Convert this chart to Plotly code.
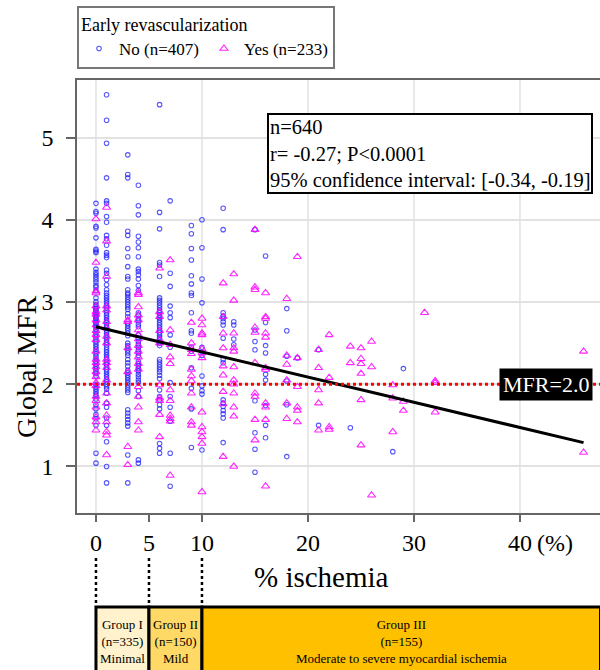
import plotly.graph_objects as go

# ---------------- data ----------------
# % ischemia columns and Global MFR values, "No" = circles, "Yes" = triangles
no_0 = [4.20, 4.10, 4.08, 3.92, 3.90, 3.78, 3.64, 3.62, 3.60, 3.40, 3.36, 3.33, 3.30, 3.27, 3.24, 3.20, 3.18, 3.14,
        3.05, 3.00, 2.97, 2.94, 2.92, 2.90, 2.88, 2.86, 2.84, 2.82, 2.80, 2.78, 2.76, 2.74, 2.72, 2.70, 2.67, 2.64,
        2.61, 2.58, 2.55, 2.52, 2.49, 2.46, 2.43, 2.40, 2.37, 2.34, 2.31, 2.28, 2.25, 2.22, 2.19, 2.16, 2.13, 2.10,
        2.00, 1.97, 1.94, 1.91, 1.88, 1.85, 1.82, 1.75, 1.70, 1.63, 1.58, 1.50, 1.16, 1.04]
yes_0 = [4.01, 3.48, 3.13, 3.11, 2.95, 2.88, 2.85, 2.78, 2.72, 2.65, 2.60, 2.54, 2.40, 2.30, 2.26, 2.21, 2.15, 2.09,
         2.02, 1.98, 1.85, 1.80, 1.72, 1.60, 1.54, 1.44]
no_1 = [5.52, 5.21, 4.93, 4.51, 4.23, 4.20, 4.04, 3.97, 3.81, 3.77, 3.69, 3.60, 3.57, 3.54, 3.39, 3.35, 3.27, 3.21,
        3.15, 3.11, 3.08, 3.05, 3.02, 2.99, 2.96, 2.93, 2.90, 2.87, 2.84, 2.81, 2.78, 2.75, 2.72, 2.69, 2.66, 2.63,
        2.60, 2.57, 2.54, 2.51, 2.48, 2.45, 2.42, 2.39, 2.36, 2.33, 2.30, 2.27, 2.24, 2.21, 2.18, 2.15, 2.12, 2.09,
        2.06, 2.03, 2.00, 1.97, 1.94, 1.89, 1.77, 1.72, 1.59, 1.50, 1.30, 1.00, 0.80]
yes_1 = [4.15, 3.74, 3.31, 2.95, 2.90, 2.76, 2.68, 2.58, 2.50, 2.30, 2.26, 2.20, 2.05, 1.89, 1.77, 1.62, 1.54, 1.42,
         1.38, 1.14]
no_3 = [4.79, 4.55, 4.51, 3.86, 3.81, 3.65, 3.55, 3.43, 3.31, 3.28, 3.15, 3.11, 3.09, 3.06, 3.03, 3.00, 2.97, 2.94,
        2.91, 2.86, 2.82, 2.74, 2.71, 2.68, 2.65, 2.62, 2.59, 2.50, 2.47, 2.44, 2.41, 2.38, 2.35, 2.30, 2.26, 2.22,
        2.17, 2.14, 2.11, 2.08, 2.05, 2.02, 1.99, 1.96, 1.93, 1.90, 1.69, 1.65, 1.61, 1.57, 1.53, 1.49, 1.14, 0.80]
yes_3 = [2.78, 2.76, 2.44, 2.15, 1.24, 1.02]
no_4 = [4.42, 4.17, 4.06, 3.80, 3.73, 3.66, 3.55, 3.40, 3.37, 3.33, 3.28, 3.20, 3.14, 2.87, 2.84, 2.80, 2.77, 2.73,
        2.70, 2.60, 2.56, 2.52, 2.49, 2.45, 2.42, 2.38, 2.35, 2.28, 2.25, 2.22, 2.19, 2.16, 2.12, 2.09, 2.05, 2.02,
        1.92, 1.85, 1.08, 1.04]
yes_4 = [3.11, 3.09, 2.94, 2.84, 2.78, 2.66, 2.60, 2.55, 2.47, 2.40, 2.33, 2.25, 2.18, 1.97, 1.85, 1.72, 1.54, 1.44]
no_6 = [5.40, 4.09, 3.89, 3.48, 3.45, 3.31, 3.05, 3.02, 2.99, 2.96, 2.93, 2.90, 2.87, 2.84, 2.81, 2.78, 2.75, 2.72,
        2.69, 2.66, 2.63, 2.60, 2.57, 2.54, 2.50, 2.47, 2.30, 2.27, 2.24, 2.21, 2.18, 2.15, 2.11, 2.07, 1.93, 1.85,
        1.81, 1.75, 1.70, 1.28, 1.22, 1.16]
yes_6 = [3.41, 2.88, 2.82, 2.65, 2.54, 2.50, 1.99, 1.83, 1.80, 1.63, 1.36]
no_7 = [4.23, 3.35, 3.19, 2.95, 2.87, 2.81, 2.60, 2.45, 2.02, 1.85, 1.72, 1.55, 1.16, 0.76]
yes_7 = [3.51, 2.66, 2.48, 2.33, 2.25, 1.93, 1.80, 1.62, 1.58, 1.55, 0.89]
no_9 = [3.93, 3.83, 3.65, 3.51, 3.32, 3.22, 3.11, 3.08, 2.87, 2.65, 2.62, 2.45, 2.40, 2.20, 1.95, 1.70, 1.23]
yes_9 = [2.75, 2.50, 2.42, 2.37, 2.18, 2.10, 2.04, 1.89, 1.72, 1.54, 1.50]
no_10 = [4.00, 3.66, 3.28, 2.99, 2.45, 2.35, 2.10, 1.98, 1.92, 1.88, 1.20]
yes_10 = [2.80, 2.72, 2.62, 2.60, 2.43, 2.38, 2.32, 1.66, 1.48, 1.42, 1.36, 1.28, 0.69]
no_12 = [4.14, 3.88, 2.87, 2.83, 2.80, 2.76, 2.72, 2.56, 2.30, 2.26, 1.81, 1.77, 1.73, 1.68, 1.64, 1.59, 1.29]
yes_12 = [3.23, 2.82, 2.62, 2.44, 2.22, 2.11, 1.91, 1.76, 1.12]
no_13 = [2.76, 2.72, 2.55, 2.48]
yes_13 = [3.34, 3.02, 2.62, 2.44, 2.40, 2.21, 2.05, 2.00, 1.89, 1.72, 1.61, 1.00]
no_15 = [3.88, 2.66, 2.52, 2.42, 1.80, 1.41, 1.21, 0.93]
yes_15 = [3.88, 3.18, 3.15, 2.69, 2.63, 2.26, 1.89, 1.85, 1.57, 1.32]
no_16 = [3.56, 2.75, 2.47, 2.38, 2.12, 2.05, 1.74, 1.50, 1.35]
yes_16 = [3.11, 2.82, 2.80, 2.62, 2.57, 2.20, 2.18, 1.77, 1.72, 1.57, 0.76]
no_18 = [2.92, 2.65, 2.34, 2.04, 1.75, 1.12]
yes_18 = [3.04, 2.35, 2.24, 2.05, 1.77, 1.58]
no_19 = [2.32]
yes_19 = [3.55, 2.32, 1.97, 1.72, 1.68, 1.54]
no_21 = [2.42, 1.50]
yes_21 = [2.42, 2.20, 1.93, 1.77, 1.44]
yes_22 = [2.60, 2.08, 1.48, 1.45]
no_24 = [1.47]
yes_24 = [2.46, 2.26]
yes_25 = [2.44, 2.31, 2.25, 2.13, 1.81, 1.26]
yes_26 = [2.52, 2.21, 0.65]
no_28 = [1.18]
yes_28 = [1.99, 1.83, 1.42]
no_29 = [2.19]
yes_29 = [1.79, 1.68]
yes_31 = [2.87]
yes_32 = [2.04, 2.02, 1.66]
yes_46 = [2.40, 1.17]

no_columns = [(0, no_0), (1, no_1), (3, no_3), (4, no_4), (6, no_6), (7, no_7), (9, no_9), (10, no_10),
              (12, no_12), (13, no_13), (15, no_15), (16, no_16), (18, no_18), (19, no_19), (21, no_21),
              (24, no_24), (28, no_28), (29, no_29)]
yes_columns = [(0, yes_0), (1, yes_1), (3, yes_3), (4, yes_4), (6, yes_6), (7, yes_7), (9, yes_9), (10, yes_10),
               (12, yes_12), (13, yes_13), (15, yes_15), (16, yes_16), (18, yes_18), (19, yes_19), (21, yes_21),
               (22, yes_22), (24, yes_24), (25, yes_25), (26, yes_26), (28, yes_28), (29, yes_29), (31, yes_31),
               (32, yes_32), (46, yes_46)]

reg_x = [0, 46]
reg_y = [2.70, 1.29]
mfr_threshold = 2.0

x_ticks = [0, 5, 10, 20, 30, 40]
x_ticktext = ["0", "5", "10", "20", "30", "40"]
x_grid = [0, 10, 20, 30, 40]
y_ticks = [1, 2, 3, 4, 5]

group_edges = [0, 5, 10, 47.6]
group_labels = ["Group I<br>(n=335)<br>Minimal",
                "Group II<br>(n=150)<br>Mild",
                "Group III<br>(n=155)<br>Moderate to severe myocardial ischemia"]
group_fills = ["#FFF2CC", "#FFD966", "#FFC000"]

stats_text = "n=640<br>r= -0.27; P<0.0001<br>95% confidence interval: [-0.34, -0.19]"

FONT = "Liberation Serif, Times New Roman, serif"


def flatten(cols):
    xs, ys = [], []
    for xv, vals in cols:
        for v in vals:
            xs.append(xv)
            ys.append(v)
    return xs, ys


no_x, no_y = flatten(no_columns)
yes_x, yes_y = flatten(yes_columns)

fig = go.Figure()
fig.add_trace(go.Scatter(
    x=no_x, y=no_y, mode="markers", name="No (n=407)",
    marker=dict(symbol="circle-open", size=4.5, color="rgba(30,30,255,0.75)", line=dict(width=1.1)),
))
fig.add_trace(go.Scatter(
    x=yes_x, y=yes_y, mode="markers", name="Yes (n=233)",
    marker=dict(symbol="triangle-up-open", size=7, color="rgba(255,0,255,0.85)", line=dict(width=1.1)),
))
fig.add_trace(go.Scatter(
    x=reg_x, y=reg_y, mode="lines", showlegend=False,
    line=dict(color="black", width=3),
))

shapes = []
for gx in x_grid:
    shapes.append(dict(type="line", xref="x", yref="paper", x0=gx, x1=gx, y0=0, y1=1,
                       line=dict(color="#e2e2e2", width=1.5), layer="below"))
shapes.append(dict(type="line", xref="paper", yref="y", x0=0, x1=1, y0=mfr_threshold, y1=mfr_threshold,
                   line=dict(color="red", width=3, dash="dot")))
# dotted connectors to the group boxes
for ex in group_edges[:3]:
    shapes.append(dict(type="line", xref="x", yref="paper", x0=ex, x1=ex, y0=-0.104, y1=-0.217,
                       line=dict(color="black", width=2.5, dash="dot")))
# group boxes
for i in range(3):
    shapes.append(dict(type="rect", xref="x", yref="paper", x0=group_edges[i], x1=group_edges[i + 1],
                       y0=-0.217, y1=-0.45, fillcolor=group_fills[i],
                       line=dict(color="black", width=3)))

annotations = []
for i in range(3):
    annotations.append(dict(x=(group_edges[i] + group_edges[i + 1]) / 2, y=-0.297, xref="x", yref="paper",
                            xanchor="center", yanchor="middle",
                            text=group_labels[i], showarrow=False, align="center",
                            font=dict(family=FONT, size=13, color="black")))
annotations.append(dict(x=0.363, y=0.924, xref="paper", yref="paper", xanchor="left", yanchor="top",
                        text=stats_text, showarrow=False, align="left", bgcolor="white",
                        bordercolor="black", borderwidth=2, borderpad=1,
                        font=dict(family=FONT, size=20.5, color="black")))
annotations.append(dict(x=42.5, y=mfr_threshold, xref="x", yref="y", text="MFR=2.0", showarrow=False,
                        bgcolor="black", borderpad=3, font=dict(family=FONT, size=22, color="white")))
annotations.append(dict(x=41.4, y=-0.069, xref="x", yref="paper", xanchor="left", yanchor="middle",
                        text="(%)", showarrow=False, font=dict(family=FONT, size=24, color="black")))
annotations.append(dict(x=0.468, y=-0.148, xref="paper", yref="paper", xanchor="center", yanchor="middle",
                        text="% ischemia", showarrow=False,
                        font=dict(family=FONT, size=29, color="black")))
annotations.append(dict(x=-0.0975, y=0.337, xref="paper", yref="paper", xanchor="center", yanchor="middle",
                        text="Global MFR", showarrow=False,
                        textangle=-90, font=dict(family=FONT, size=28, color="black")))

fig.update_layout(
    width=600, height=670,
    margin=dict(l=77, r=0, t=80, b=157),
    plot_bgcolor="white", paper_bgcolor="white",
    font=dict(family=FONT, color="black"),
    shapes=shapes, annotations=annotations,
    legend=dict(
        x=0, y=1.172, xanchor="left", yanchor="top", orientation="h",
        bordercolor="#777", borderwidth=2, bgcolor="white",
        title=dict(text="Early revascularization", side="top", font=dict(family=FONT, size=18)),
        font=dict(family=FONT, size=17), itemwidth=30,
    ),
    xaxis=dict(range=[-1.79, 47.55], tickvals=x_ticks, ticktext=x_ticktext, showgrid=False, zeroline=False,
               showline=True, linecolor="#666", linewidth=1.5, mirror=True,
               ticks="outside", ticklen=7, tickwidth=1.5, tickcolor="#666",
               tickfont=dict(family=FONT, size=24, color="black")),
    yaxis=dict(range=[0.434, 5.70], tickvals=y_ticks, showgrid=True, gridcolor="#e2e2e2", gridwidth=1.5,
               zeroline=False, showline=True, linecolor="#666", linewidth=1.5,
               ticks="outside", ticklen=9, tickwidth=1.5, tickcolor="#666", ticklabelstandoff=8,
               tickfont=dict(family=FONT, size=24, color="black")),
)

fig.write_html("out.html")
